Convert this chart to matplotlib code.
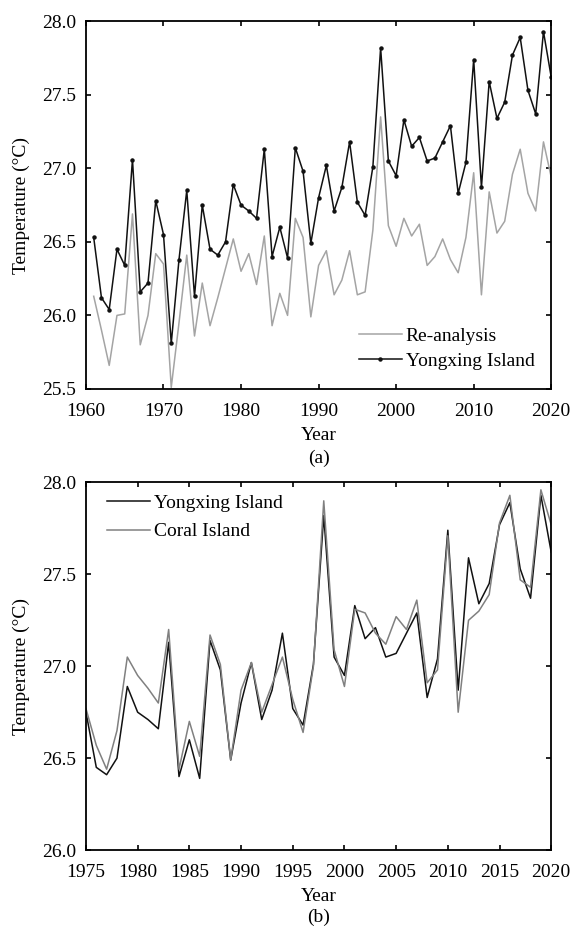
import numpy as np
import matplotlib.pyplot as plt

# ============================================================
#   DATOS
# ============================================================
years_a = np.arange(1961, 2021)

# Yongxing Island (1961-2020)
yongxing = [26.53, 26.12, 26.04, 26.45, 26.34, 27.06, 26.16, 26.22, 26.78, 26.55,
            25.81, 26.38, 26.85, 26.13, 26.75, 26.45, 26.41, 26.50, 26.89, 26.75,
            26.71, 26.66, 27.13, 26.40, 26.60, 26.39, 27.14, 26.98, 26.49, 26.80,
            27.02, 26.71, 26.87, 27.18, 26.77, 26.68, 27.01, 27.82, 27.05, 26.95,
            27.33, 27.15, 27.21, 27.05, 27.07, 27.18, 27.29, 26.83, 27.04, 27.74,
            26.87, 27.59, 27.34, 27.45, 27.77, 27.89, 27.53, 27.37, 27.93, 27.62]

# Re-analysis (1961-2020)
reanalysis = [26.13, 25.90, 25.66, 26.00, 26.01, 26.69, 25.80, 26.00, 26.42, 26.35,
              25.51, 25.95, 26.41, 25.86, 26.22, 25.93, 26.12, 26.32, 26.52, 26.30,
              26.42, 26.21, 26.54, 25.93, 26.15, 26.00, 26.66, 26.53, 25.99, 26.34,
              26.44, 26.14, 26.24, 26.44, 26.14, 26.16, 26.58, 27.35, 26.61, 26.47,
              26.66, 26.54, 26.62, 26.34, 26.40, 26.52, 26.38, 26.29, 26.53, 26.97,
              26.14, 26.84, 26.56, 26.64, 26.96, 27.13, 26.83, 26.71, 27.18, 26.94]

years_b = np.arange(1975, 2021)

# Coral Island (1975-2020)
coral = [26.77, 26.57, 26.44, 26.65, 27.05, 26.95, 26.88, 26.80, 27.20, 26.44,
         26.70, 26.51, 27.17, 27.01, 26.49, 26.87, 27.02, 26.75, 26.90, 27.05,
         26.82, 26.64, 27.00, 27.90, 27.09, 26.89, 27.31, 27.29, 27.18, 27.12,
         27.27, 27.20, 27.36, 26.91, 26.98, 27.71, 26.75, 27.25, 27.30, 27.39,
         27.78, 27.93, 27.47, 27.43, 27.96, 27.77]

yongxing_b = yongxing[years_b[0] - years_a[0]:]

# ============================================================
#  CONFIGURACIÓN VISUAL
# ============================================================
plt.rcParams['font.family'] = 'serif'
plt.rcParams['font.serif'] = ['Liberation Serif', 'DejaVu Serif']
plt.rcParams['font.size'] = 14
plt.rcParams['axes.linewidth'] = 1.3
plt.rcParams['xtick.direction'] = 'in'
plt.rcParams['ytick.direction'] = 'in'
plt.rcParams['xtick.top'] = True
plt.rcParams['ytick.right'] = True
plt.rcParams['xtick.major.size'] = 3.5
plt.rcParams['ytick.major.size'] = 3.5
plt.rcParams['xtick.major.width'] = 1.2
plt.rcParams['ytick.major.width'] = 1.2
plt.rcParams['xtick.major.pad'] = 10
plt.rcParams['ytick.major.pad'] = 7

fig = plt.figure(figsize=(5.73, 9.26), dpi=100)
ax1 = fig.add_axes([0.150, 0.580, 0.812, 0.397])
ax2 = fig.add_axes([0.150, 0.082, 0.812, 0.397])

# ----------------------
# (a)
# ----------------------
ax1.plot(years_a, reanalysis, color='#a4a4a4', linewidth=1.1, label='Re-analysis')
ax1.plot(years_a, yongxing, color='#111111', linewidth=1.1, marker='o',
         markersize=2.2, label='Yongxing Island')
ax1.set_xlim(1960, 2020)
ax1.set_ylim(25.5, 28.0)
ax1.set_xticks(np.arange(1960, 2021, 10))
ax1.set_yticks(np.arange(25.5, 28.01, 0.5))
ax1.yaxis.set_major_formatter(plt.FormatStrFormatter('%.1f'))
ax1.set_ylabel('Temperature (°C)', labelpad=9)
ax1.set_xlabel('Year', labelpad=5)
ax1.text(0.5, -0.19, '(a)', transform=ax1.transAxes, ha='center', va='center')
ax1.legend(loc='lower right', bbox_to_anchor=(0.981, 0.03), borderaxespad=0,
           frameon=False, handlelength=2.2, handletextpad=0.2, labelspacing=0.38)

# ----------------------
# (b)
# ----------------------
ax2.plot(years_b, yongxing_b, color='#111111', linewidth=1.1, label='Yongxing Island')
ax2.plot(years_b, coral, color='#808080', linewidth=1.1, label='Coral Island')
ax2.set_xlim(1975, 2020)
ax2.set_ylim(26.0, 28.0)
ax2.set_xticks(np.arange(1975, 2021, 5))
ax2.set_yticks(np.arange(26.0, 28.01, 0.5))
ax2.yaxis.set_major_formatter(plt.FormatStrFormatter('%.1f'))
ax2.set_ylabel('Temperature (°C)', labelpad=9)
ax2.set_xlabel('Year', labelpad=5)
ax2.text(0.5, -0.183, '(b)', transform=ax2.transAxes, ha='center', va='center')
ax2.legend(loc='upper left', bbox_to_anchor=(0.028, 0.99), borderaxespad=0,
           frameon=False, handlelength=2.2, handletextpad=0.25, labelspacing=0.58)

fig.savefig('out.png', dpi=100)
